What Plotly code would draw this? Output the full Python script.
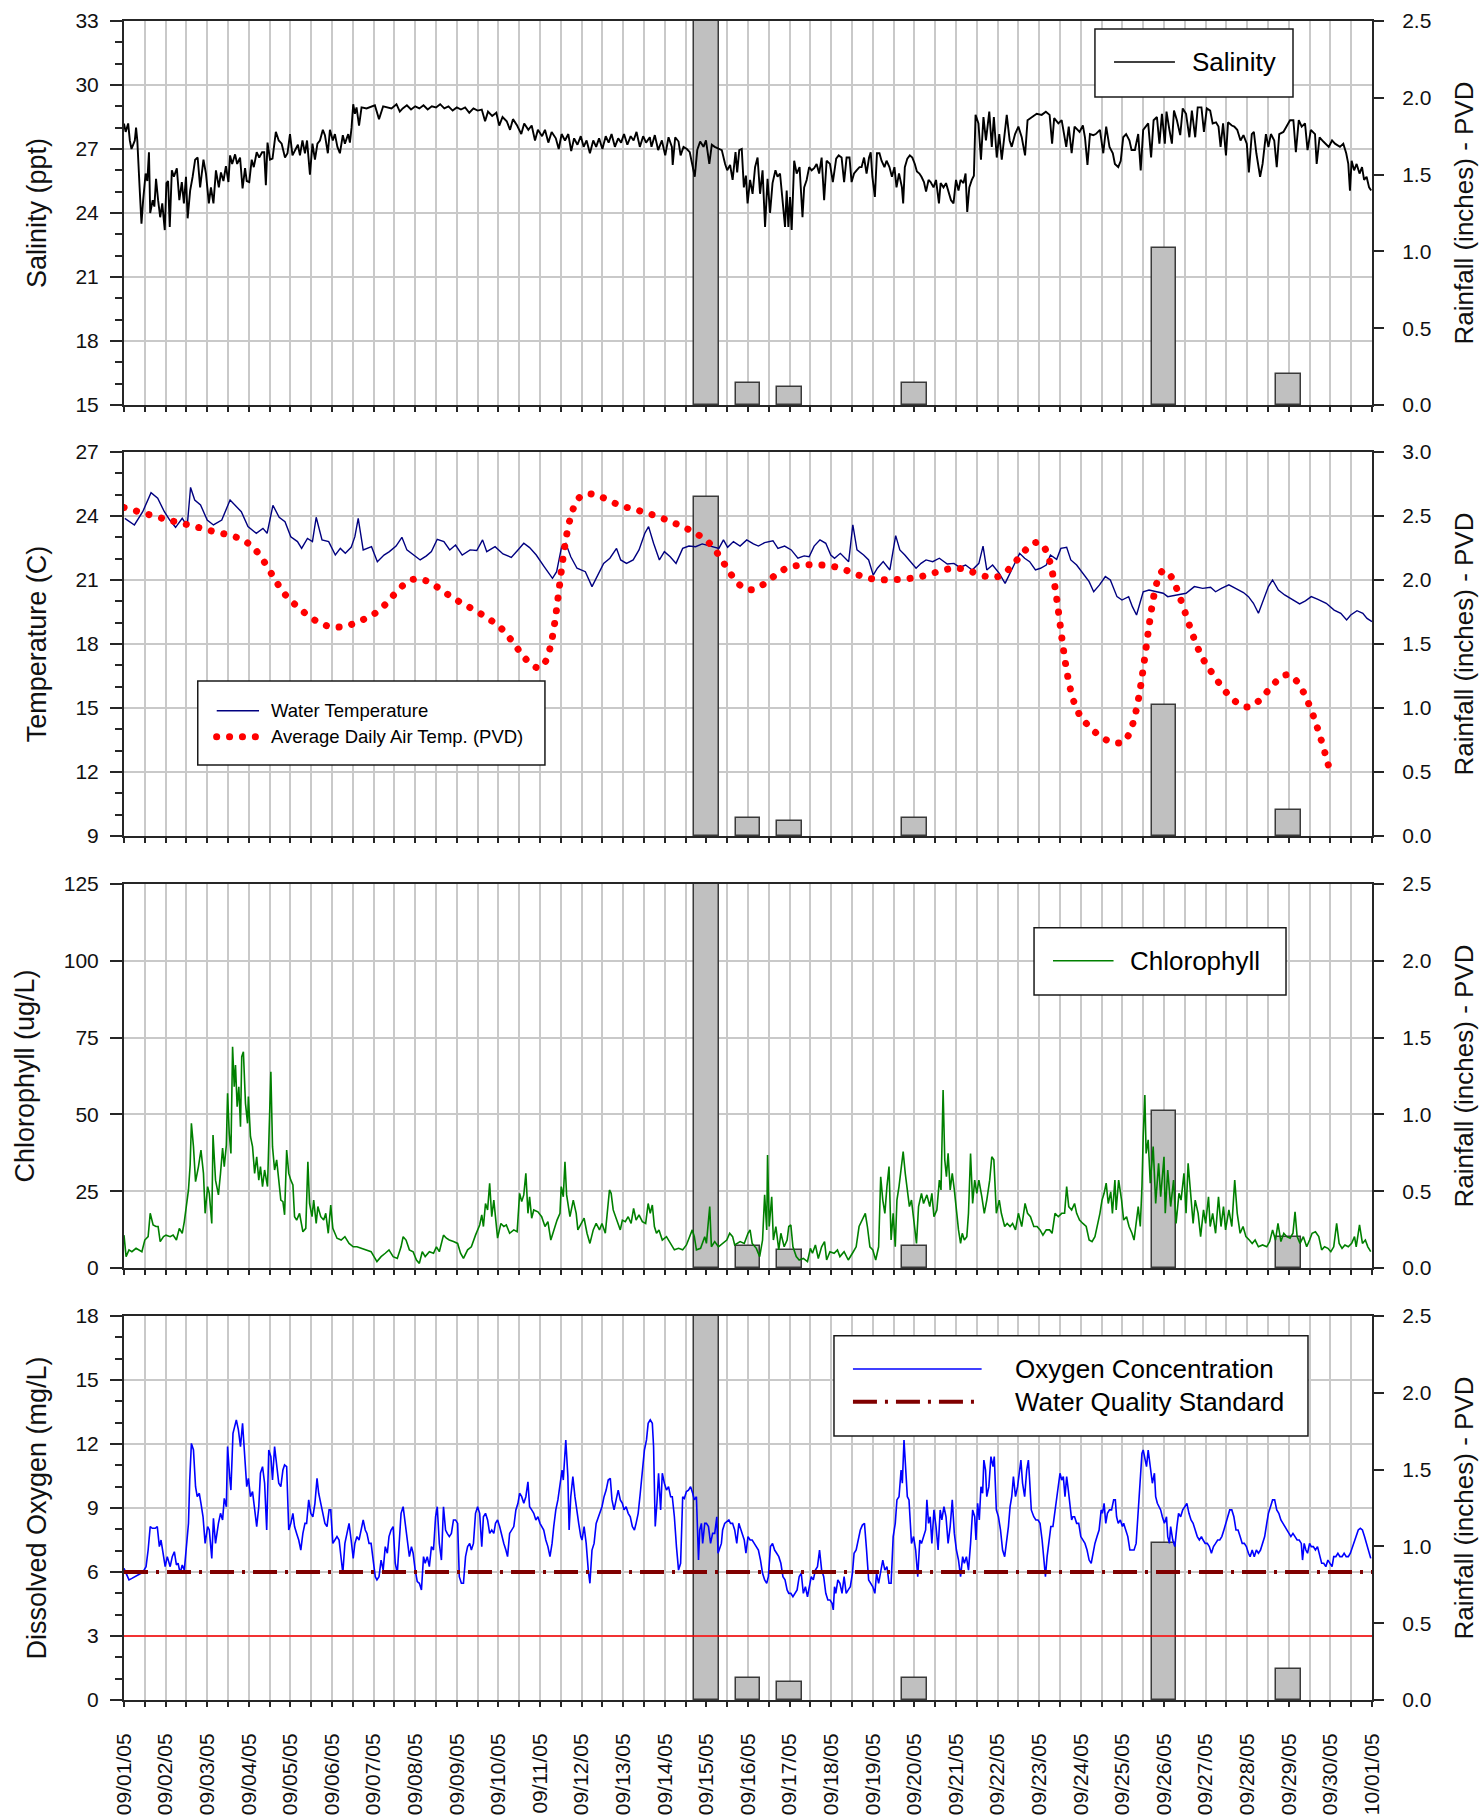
import pandas as pd
import plotly.graph_objects as go

T0 = pd.Timestamp("2005-09-01")
T_END = pd.Timestamp("2005-10-01")

# ---------------------------------------------------------------- data ----
# Daily rainfall at PVD (inches)
rain_dates = ["2005-09-15", "2005-09-16", "2005-09-17", "2005-09-20", "2005-09-26", "2005-09-29"]
rain_in = [2.65, 0.14, 0.12, 0.14, 1.02, 0.20]

# Average daily air temperature at PVD (C), 09/01 .. 09/30
air_dates = pd.date_range("2005-09-01", "2005-09-30", freq="D")
air_temp_c = [24.4, 23.85, 23.35, 22.7, 20.05, 18.8, 19.4, 21.05, 20.05, 18.85,
              16.9, 24.95, 24.45, 23.85, 22.85, 20.55, 21.6, 21.65, 21.05, 21.1,
              21.55, 21.15, 22.75, 14.6, 13.4, 21.45, 17.1, 15.05, 16.55, 11.95]

# Salinity (ppt); time in days after 09/01/05 00:00
sal_day = [
    0.00, 0.04, 0.10, 0.14, 0.18, 0.22, 0.26, 0.29, 0.32, 0.37,
    0.42, 0.46, 0.52, 0.56, 0.60, 0.63, 0.69, 0.73, 0.77, 0.82,
    0.87, 0.92, 0.98, 1.02, 1.06, 1.10, 1.15, 1.20, 1.27, 1.33,
    1.39, 1.44, 1.49, 1.53, 1.59, 1.65, 1.71, 1.77, 1.83, 1.91,
    1.97, 2.04, 2.09, 2.15, 2.21, 2.28, 2.33, 2.39, 2.45, 2.51,
    2.55, 2.60, 2.67, 2.72, 2.79, 2.85, 2.91, 2.95, 3.01, 3.07,
    3.12, 3.19, 3.25, 3.32, 3.37, 3.41, 3.45, 3.51, 3.57, 3.65,
    3.72, 3.79, 3.87, 3.93, 3.99, 4.05, 4.13, 4.18, 4.23, 4.29,
    4.35, 4.40, 4.47, 4.53, 4.59, 4.65, 4.71, 4.78, 4.83, 4.90,
    4.95, 5.02, 5.07, 5.13, 5.19, 5.26, 5.31, 5.39, 5.43, 5.47,
    5.51, 5.55, 5.59, 5.65, 5.71, 5.83, 6.03, 6.13, 6.23, 6.43,
    6.55, 6.63,
    6.70, 6.80, 6.90, 7.00, 7.10, 7.20, 7.30, 7.40, 7.50, 7.60,
    7.70, 7.80, 7.90, 8.00, 8.10, 8.20, 8.30, 8.40, 8.50, 8.60,
    8.68, 8.75, 8.85, 8.95, 9.02, 9.10, 9.20, 9.28, 9.35, 9.45,
    9.55, 9.62, 9.72, 9.80, 9.88, 9.95, 10.05, 10.12, 10.20, 10.28,
    10.38, 10.45, 10.52, 10.60, 10.68, 10.75, 10.82, 10.90, 10.98, 11.05,
    11.12, 11.20, 11.28, 11.35, 11.42, 11.50, 11.58, 11.65, 11.72, 11.80,
    11.88, 11.95, 12.02, 12.10, 12.18, 12.25, 12.32, 12.40, 12.48, 12.55,
    12.64, 12.68, 12.76, 12.84, 12.93, 13.01, 13.09, 13.17, 13.19, 13.25,
    13.33, 13.38, 13.45, 13.53, 13.60, 13.67, 13.72, 13.78, 13.85, 13.93,
    13.99, 14.07, 14.13, 14.20, 14.29, 14.37, 14.45, 14.50, 14.57, 14.63,
    14.70, 14.74, 14.79, 14.85, 14.90, 14.95, 14.99, 15.05, 15.11, 15.17,
    15.23, 15.29, 15.35, 15.41, 15.47, 15.53, 15.59, 15.66, 15.71, 15.77,
    15.83, 15.89, 15.93, 15.97, 16.01, 16.05, 16.11, 16.17, 16.24, 16.31,
    16.35, 16.41, 16.47, 16.53, 16.59, 16.65, 16.71, 16.77, 16.83, 16.89,
    16.97, 17.04, 17.12, 17.18, 17.25, 17.31, 17.37, 17.44, 17.49, 17.55,
    17.61, 17.68, 17.73, 17.79, 17.85, 17.91, 17.95, 17.99, 18.05, 18.10,
    18.16, 18.21, 18.28, 18.33, 18.40, 18.46, 18.52, 18.57, 18.63, 18.70,
    18.73, 18.77, 18.83, 18.89, 18.95, 19.01, 19.06, 19.12, 19.17, 19.23,
    19.28, 19.34, 19.39, 19.46, 19.52, 19.59, 19.63, 19.70, 19.76, 19.82,
    19.88, 19.94, 20.00, 20.06, 20.11, 20.18, 20.23, 20.27, 20.32, 20.38,
    20.43, 20.47, 20.54, 20.60, 20.66, 20.72, 20.80, 20.86, 20.91, 20.98,
    21.04, 21.10, 21.16, 21.22, 21.29, 21.34, 21.42, 21.50, 21.58, 21.66,
    21.72, 21.82, 21.94, 22.06, 22.16, 22.25, 22.31, 22.36, 22.46, 22.54,
    22.65, 22.71, 22.78, 22.85, 22.97, 23.05, 23.10, 23.16, 23.22, 23.30,
    23.36, 23.46, 23.54, 23.61, 23.69, 23.77, 23.82, 23.90, 23.96, 24.02,
    24.09, 24.17, 24.22, 24.30, 24.38, 24.44, 24.50, 24.62,
    24.69, 24.75, 24.83, 24.89, 24.95, 25.02, 25.06, 25.13, 25.19, 25.24,
    25.31, 25.39, 25.45, 25.53, 25.61, 25.67, 25.75, 25.81, 25.90, 25.96,
    26.03, 26.11, 26.17, 26.25, 26.31, 26.36, 26.42, 26.49, 26.54, 26.63,
    26.69, 26.76, 26.84, 26.91, 26.99, 27.04, 27.11, 27.16, 27.22, 27.31,
    27.37, 27.45, 27.51, 27.57, 27.65, 27.71, 27.77, 27.87, 27.95, 28.03,
    28.11, 28.17, 28.24, 28.31, 28.39, 28.45, 28.53, 28.63, 28.67, 28.74,
    28.83, 28.96, 29.04, 29.11, 29.23, 29.31, 29.38, 29.43, 29.47, 29.51,
    29.57, 29.63, 29.70, 29.76, 29.81, 29.87, 29.93, 29.98,
]
sal_ppt = [
    28.19, 27.8, 28.2, 27.4, 27.0, 27.25, 27.4, 28.0, 27.4, 25.4,
    23.5, 24.6, 25.85, 25.5, 26.85, 24.0, 24.6, 24.3, 25.6, 24.6,
    23.8, 24.45, 23.2, 25.4, 25.5, 23.35, 26.0, 25.7, 26.1, 24.6,
    25.45, 24.45, 25.7, 23.75, 25.05, 25.7, 26.5, 26.6, 25.2, 26.5,
    25.85, 24.45, 25.2, 24.45, 26.0, 25.2, 25.9, 25.5, 26.2, 25.45,
    26.7, 26.3, 26.75, 26.3, 26.6, 25.15, 26.1, 25.5, 25.45, 26.5,
    26.15, 26.85, 26.6, 26.85, 26.85, 25.3, 27.3, 26.5, 26.55, 27.8,
    27.4, 27.25, 26.6, 26.8, 27.7, 26.7, 27.0, 27.2, 26.7, 27.4,
    26.8, 27.4, 25.8, 27.25, 26.5, 27.25, 27.4, 27.9, 27.65, 26.8,
    27.9, 27.4, 27.7, 27.1, 26.8, 27.65, 27.25, 27.7, 27.3, 28.0,
    29.1, 28.65, 28.95, 28.1, 28.95, 28.9, 29.05, 28.4, 29.0, 28.9,
    29.1, 28.75,
    28.9, 29.05, 28.85, 29.0, 28.9, 29.05, 28.85, 29.0, 28.95, 29.1,
    28.9, 29.0, 28.8, 28.95, 28.85, 28.95, 28.7, 28.9, 28.8, 28.85,
    28.3, 28.75, 28.55, 28.7, 28.1, 28.5, 28.3, 27.9, 28.4, 28.1,
    27.7, 28.2, 27.9, 28.1, 27.4, 27.9, 27.6, 27.9, 27.3, 27.8,
    27.5, 27.0, 27.7, 27.4, 27.7, 26.9, 27.5, 27.2, 27.6, 27.1,
    27.4, 26.8, 27.4, 27.1, 27.5, 27.0, 27.6, 27.3, 27.7, 27.1,
    27.5, 27.3, 27.7, 27.2, 27.6, 27.4, 27.8, 27.1, 27.6, 27.3,
    27.55, 27.1, 27.65, 26.95, 27.4, 26.7, 27.55, 27.1, 26.25, 27.55,
    27.35, 26.7, 27.1, 27.0, 26.85, 26.15, 25.7, 26.95, 27.35, 27.1,
    27.4, 26.3, 27.2, 27.1, 27.0, 26.95, 26.3, 26.0, 26.25, 25.55,
    26.85, 25.9, 26.95, 27.0, 25.2, 25.75, 24.45, 25.55, 24.9, 26.15,
    26.6, 24.9, 26.0, 23.35, 25.6, 24.0, 25.4, 26.0, 25.7, 25.85,
    24.6, 23.35, 25.05, 23.35, 24.75, 23.2, 26.45, 25.85, 26.15, 23.8,
    25.2, 25.55, 26.15, 26.0, 26.1, 26.3, 25.85, 26.6, 24.6, 26.45,
    26.3, 25.45, 26.55, 26.7, 26.6, 25.45, 26.6, 26.6, 25.45, 25.85,
    26.0, 26.15, 26.15, 26.6, 25.85, 26.6, 26.85, 25.7, 24.75, 26.8,
    26.8, 26.45, 26.15, 26.45, 26.15, 25.7, 26.15, 25.2, 25.85, 25.2,
    24.45, 26.15, 26.55, 26.7, 26.6, 26.3, 25.95, 25.85, 25.7, 25.45,
    25.0, 25.55, 25.45, 25.2, 25.55, 24.45, 25.4, 25.2, 25.4, 25.05,
    24.6, 24.45, 25.55, 25.05, 25.55, 25.4, 25.85, 24.05, 25.2, 25.55,
    25.75, 28.6, 28.2, 26.5, 28.5, 27.4, 28.75, 27.1, 28.5, 26.6,
    27.7, 26.5, 27.7, 28.6, 27.4, 27.1, 27.7, 28.05, 27.55, 26.7,
    28.35, 28.5, 28.65, 28.6, 28.75, 28.6, 27.25, 28.45, 28.2, 28.35,
    27.1, 28.05, 26.8, 28.05, 27.8, 28.1, 27.55, 26.25, 27.7, 27.65,
    27.7, 27.9, 26.8, 28.05, 27.1, 26.8, 26.3, 26.15, 26.45, 27.55,
    27.7, 27.4, 26.95, 26.95, 27.7, 26.0, 27.9, 28.2,
    26.6, 28.35, 28.5, 27.25, 28.65, 27.25, 28.75, 27.9, 27.25, 28.8,
    28.35, 27.65, 28.9, 28.65, 27.55, 28.8, 27.55, 28.95, 28.95, 27.8,
    28.9, 28.8, 28.2, 28.25, 28.05, 27.1, 28.2, 26.7, 28.25, 28.1,
    28.05, 27.9, 27.4, 27.65, 27.25, 25.9, 27.7, 27.8, 26.8, 25.7,
    26.3, 27.7, 27.1, 27.7, 27.4, 26.15, 27.7, 27.8, 28.05, 28.35,
    28.35, 26.85, 28.35, 28.05, 28.2, 26.95, 27.9, 27.7, 26.3, 27.55,
    27.35, 27.1, 27.4, 27.25, 27.1, 27.25, 26.8, 26.3, 25.05, 26.45,
    26.0, 26.3, 25.85, 26.15, 25.55, 25.7, 25.2, 25.05,
]

# Water temperature (C)
wt_day = [
    0.02, 0.25, 0.45, 0.65, 0.81, 0.97, 1.10, 1.24, 1.40, 1.52,
    1.60, 1.70, 1.84, 2.00, 2.15, 2.35, 2.55, 2.69, 2.82, 2.98,
    3.18, 3.34, 3.44, 3.58, 3.73, 3.87, 4.01, 4.17, 4.27, 4.41,
    4.53, 4.62, 4.76, 4.92, 5.08, 5.20, 5.32, 5.46, 5.55, 5.63,
    5.75, 5.95, 6.09, 6.25, 6.38, 6.54, 6.68, 6.80, 6.96, 7.12,
    7.27, 7.39, 7.53, 7.69, 7.83, 7.97, 8.13, 8.32, 8.48, 8.62,
    8.72, 8.92, 9.11, 9.31, 9.47, 9.61, 9.75, 9.91, 10.10, 10.30,
    10.40, 10.52, 10.62, 10.74, 10.89, 11.09, 11.25, 11.37, 11.53, 11.68,
    11.84, 11.94, 12.08, 12.24, 12.38, 12.52, 12.61, 12.73, 12.87, 12.99,
    13.13, 13.27, 13.43, 13.58, 13.74, 13.90, 14.16, 14.30, 14.41, 14.51,
    14.65, 14.81, 14.97, 15.13, 15.25, 15.40, 15.60, 15.72, 15.88, 16.04,
    16.20, 16.35, 16.47, 16.59, 16.73, 16.87, 16.99, 17.08, 17.22, 17.42,
    17.52, 17.62, 17.78, 17.90, 18.01, 18.11, 18.25, 18.41, 18.55, 18.65,
    18.77, 18.90, 19.04, 19.16, 19.28, 19.44, 19.60, 19.79, 19.95, 20.09,
    20.23, 20.39, 20.55, 20.65, 20.74, 20.88, 21.04, 21.18, 21.30, 21.38,
    21.53, 21.65, 21.77, 21.91, 22.03, 22.17, 22.27, 22.42, 22.52, 22.66,
    22.76, 22.90, 23.06, 23.20, 23.31, 23.45, 23.59, 23.71, 23.87, 23.99,
    24.15, 24.24, 24.34, 24.50, 24.64, 24.84, 24.98, 25.09, 25.23, 25.37,
    25.53, 25.73, 25.93, 26.12, 26.24, 26.38, 26.56, 26.72, 26.91, 27.03,
    27.15, 27.27, 27.39, 27.51, 27.61, 27.75, 27.90, 28.10, 28.26, 28.40,
    28.54, 28.70, 28.90, 29.09, 29.25, 29.39, 29.49, 29.64, 29.78, 29.88,
    30.00,
]
wt_c = [
    23.89, 23.58, 24.2, 25.09, 24.83, 24.2, 23.81, 23.47, 23.89, 23.53,
    25.34, 24.75, 24.52, 23.81, 23.58, 23.81, 24.75, 24.44, 24.2, 23.5,
    23.19, 23.42, 23.19, 24.5, 23.94, 23.73, 23.03, 22.8, 22.48, 22.95,
    22.8, 23.94, 22.88, 22.8, 22.17, 22.48, 22.25, 22.53, 23.03, 23.89,
    22.41, 22.56, 21.86, 22.17, 22.33, 22.59, 23.0, 22.41, 22.17, 21.94,
    22.13, 22.33, 22.91, 22.8, 22.41, 22.64, 22.17, 22.41, 22.38, 22.88,
    22.33, 22.56, 22.22, 22.06, 22.41, 22.72, 22.52, 22.17, 21.63, 21.08,
    21.39, 22.56, 22.72, 22.09, 21.55, 21.39, 20.69, 21.16, 21.78, 22.02,
    22.48, 21.94, 21.78, 21.94, 22.41, 23.19, 23.5, 22.72, 21.94, 22.33,
    22.09, 21.78, 22.48, 22.59, 22.56, 22.69, 22.56, 22.48, 22.88, 22.53,
    22.8, 22.59, 22.88, 22.69, 22.59, 22.75, 22.84, 22.48, 22.59, 22.41,
    22.02, 22.13, 22.09, 22.59, 22.88, 22.72, 22.17, 22.02, 22.25, 21.86,
    23.59, 22.41, 22.17, 21.94, 21.23, 21.55, 21.86, 21.47, 23.08, 22.41,
    22.17, 21.86, 21.55, 21.78, 21.94, 21.86, 22.02, 21.75, 21.78, 21.59,
    21.7, 21.47, 21.78, 22.59, 21.47, 21.7, 21.31, 20.84, 21.31, 21.7,
    22.25, 22.02, 21.86, 21.47, 21.55, 21.7, 22.17, 21.97, 22.48, 22.53,
    21.94, 21.7, 21.31, 20.92, 20.45, 20.77, 21.16, 21.0, 20.22, 20.06,
    20.22, 19.75, 19.36, 20.45, 20.53, 20.45, 20.38, 20.22, 20.27, 20.3,
    20.38, 20.69, 20.61, 20.66, 20.45, 20.61, 20.77, 20.61, 20.41, 20.22,
    19.91, 19.44, 20.06, 20.69, 21.0, 20.53, 20.3, 20.06, 19.88, 20.02,
    20.22, 20.09, 19.91, 19.59, 19.44, 19.13, 19.36, 19.56, 19.44, 19.2,
    19.05,
]

# Chlorophyll (ug/L)
chl_day = [
    0.00, 0.05, 0.12, 0.19, 0.29, 0.37, 0.43, 0.50, 0.58, 0.63,
    0.70, 0.77, 0.82, 0.87, 0.95, 1.01, 1.11, 1.18, 1.26, 1.33,
    1.40, 1.45, 1.50, 1.55, 1.59, 1.62, 1.67, 1.72, 1.79, 1.85,
    1.91, 1.95, 2.01, 2.05, 2.11, 2.14, 2.20, 2.27, 2.32, 2.37,
    2.41, 2.46, 2.49, 2.53, 2.57, 2.61, 2.65, 2.68, 2.72, 2.76,
    2.80, 2.83, 2.87, 2.92, 2.97, 2.99, 3.04, 3.09, 3.14, 3.19,
    3.24, 3.28, 3.33, 3.38, 3.45, 3.50, 3.53, 3.57, 3.62, 3.67,
    3.72, 3.77, 3.82, 3.86, 3.91, 3.96, 4.01, 4.06, 4.10, 4.15,
    4.22, 4.30, 4.37, 4.42, 4.46, 4.52, 4.56, 4.62, 4.66, 4.73,
    4.80, 4.85, 4.91, 4.97, 5.02, 5.12, 5.22, 5.31, 5.41, 5.51,
    5.60, 5.70, 5.84, 5.94, 6.08, 6.18, 6.28, 6.37, 6.47, 6.57,
    6.66, 6.71, 6.78, 6.86, 6.95, 7.03, 7.10, 7.17, 7.24, 7.34,
    7.44, 7.51, 7.58, 7.68, 7.75, 7.82, 7.92, 8.02, 8.09, 8.16,
    8.26, 8.35, 8.45, 8.55, 8.60, 8.64, 8.69, 8.74, 8.79, 8.84,
    8.89, 8.93, 8.98, 9.06, 9.13, 9.19, 9.27, 9.37, 9.45, 9.51,
    9.56, 9.61, 9.66, 9.71, 9.75, 9.80, 9.85, 9.95, 10.04, 10.12,
    10.19, 10.26, 10.33, 10.41, 10.48, 10.51, 10.56, 10.60, 10.64, 10.72,
    10.80, 10.87, 10.91, 10.99, 11.06, 11.13, 11.20, 11.28, 11.35, 11.43,
    11.49, 11.57, 11.62, 11.67, 11.71, 11.76, 11.83, 11.88, 11.93, 11.98,
    12.05, 12.12, 12.19, 12.25, 12.31, 12.38, 12.46, 12.54, 12.60, 12.65,
    12.70, 12.75, 12.80, 12.86, 12.94, 13.04, 13.14, 13.23, 13.33, 13.43,
    13.52, 13.60, 13.66, 13.71, 13.76, 13.86, 13.96, 14.00, 14.08, 14.12,
    14.20, 14.29, 14.39, 14.49, 14.56, 14.63, 14.68,
    14.81, 14.91, 15.00, 15.05, 15.10, 15.20, 15.28, 15.35, 15.40, 15.45,
    15.47, 15.51, 15.57, 15.61, 15.67, 15.74, 15.79, 15.87, 15.94, 15.98,
    16.03, 16.08, 16.16, 16.23, 16.33, 16.43, 16.50, 16.55, 16.62, 16.69,
    16.77, 16.84, 16.89, 16.97, 17.07, 17.15, 17.21, 17.31, 17.41, 17.51,
    17.60, 17.67, 17.75, 17.82, 17.87, 17.93, 18.00, 18.07, 18.14, 18.19,
    18.24, 18.29, 18.34, 18.39, 18.44, 18.49, 18.54, 18.58, 18.63, 18.68,
    18.73, 18.78, 18.83, 18.88, 18.93, 18.98, 19.05, 19.10, 19.17, 19.22,
    19.30, 19.37, 19.42, 19.47, 19.54, 19.60, 19.64, 19.69, 19.73, 19.77,
    19.81, 19.86, 19.91, 19.96, 20.01, 20.06, 20.11, 20.15, 20.20, 20.26,
    20.30, 20.35, 20.40, 20.45, 20.50, 20.55, 20.62, 20.68, 20.74, 20.81,
    20.86, 20.91, 20.97, 21.04, 21.09, 21.17, 21.23, 21.30, 21.36, 21.43,
    21.50, 21.58, 21.66, 21.72, 21.79, 21.87, 21.95, 22.02, 22.09, 22.17,
    22.25, 22.31, 22.38, 22.46, 22.54, 22.61, 22.66, 22.71, 22.78, 22.85,
    22.90, 22.97, 23.05, 23.13, 23.20, 23.27, 23.34, 23.40, 23.46, 23.51,
    23.56, 23.61, 23.66, 23.72, 23.76, 23.82, 23.85, 23.91, 23.98, 24.03,
    24.10, 24.16, 24.23, 24.28, 24.33, 24.38, 24.43, 24.47, 24.50, 24.54,
    24.57, 24.62, 24.67, 24.74, 24.80, 24.87, 24.92, 25.00, 25.03, 25.09,
    25.16, 25.23, 25.29, 25.36, 25.41, 25.48, 25.53, 25.58, 25.64, 25.70,
    25.75, 25.82, 25.88, 25.95, 26.00, 26.07, 26.11, 26.17, 26.24, 26.31,
    26.37, 26.43, 26.48, 26.56, 26.63, 26.70, 26.76, 26.83, 26.90, 26.97,
    27.05, 27.12, 27.19, 27.27, 27.37, 27.47, 27.54, 27.61, 27.68, 27.74,
    27.81, 27.88, 27.95, 28.03, 28.10, 28.15, 28.20, 28.27, 28.35, 28.43,
    28.50, 28.56, 28.64, 28.72, 28.79, 28.86, 28.94, 29.01, 29.08, 29.15,
    29.21, 29.28, 29.35, 29.43, 29.51, 29.58, 29.62, 29.70, 29.77, 29.84,
    29.90, 29.97,
]
chl_ugl = [
    10.7, 3.7, 5.9, 5.3, 6.4, 5.9, 5.3, 9.1, 10.2, 17.8,
    14.0, 13.5, 13.5, 8.6, 10.2, 10.7, 10.2, 10.7, 9.1, 12.9,
    11.3, 15.1, 20.0, 25.4, 33.5, 47.1, 39.5, 28.1, 33.0, 38.4,
    30.8, 17.8, 26.5, 24.3, 14.5, 43.3, 28.6, 23.8, 30.8, 39.0,
    33.0, 40.0, 56.9, 43.8, 37.3, 72.0, 59.0, 66.1, 52.5, 59.0,
    46.0, 68.8, 70.4, 53.6, 47.1, 55.8, 42.8, 39.5, 30.8, 36.2,
    28.6, 33.0, 26.5, 31.9, 26.5, 46.0, 63.9, 39.5, 31.9, 35.2,
    28.6, 22.1, 21.6, 17.3, 38.4, 30.8, 28.6, 27.0, 16.7, 15.6,
    17.8, 11.8, 12.9, 34.6, 21.0, 16.7, 22.1, 14.5, 20.0, 16.7,
    15.6, 17.8, 11.3, 20.5, 12.9, 9.7, 9.1, 10.2, 8.0, 6.9,
    6.9, 6.4, 5.9, 5.3, 2.1, 3.7, 4.8, 5.9, 3.7, 3.1,
    6.9, 10.2, 9.1, 5.9, 5.3, 2.6, 1.5, 5.3, 3.7, 5.3,
    4.8, 6.9, 5.3, 10.7, 9.7, 9.1, 8.6, 8.0, 4.8, 3.1,
    5.9, 6.9, 10.7, 14.0, 17.3, 13.5, 21.0, 18.9, 27.6, 16.7,
    22.1, 15.6, 9.7, 14.5, 13.5, 14.0, 11.3, 12.4, 11.8, 24.3,
    21.6, 23.8, 30.8, 17.8, 23.2, 16.2, 18.9, 18.3, 16.7, 13.5,
    15.1, 9.1, 12.4, 15.6, 17.8, 26.5, 23.2, 34.6, 23.8, 16.7,
    22.1, 17.8, 12.4, 14.5, 16.2, 11.3, 8.0, 12.4, 14.5, 12.4,
    14.5, 11.3, 17.8, 25.4, 24.3, 18.9, 16.2, 14.5, 12.4, 15.6,
    15.1, 16.7, 14.5, 19.4, 15.6, 17.3, 15.1, 14.5, 21.0, 17.8,
    20.5, 13.5, 11.3, 12.4, 9.1, 10.2, 8.0, 5.9, 6.4, 5.9,
    7.5, 10.2, 12.4, 10.2, 5.9, 6.4, 10.2, 8.0, 20.0, 6.9,
    8.6, 6.9, 8.0, 9.1, 11.3, 10.2, 7.5,
    8.6, 8.0, 11.3, 12.4, 8.0, 6.4, 3.7, 9.1, 23.8, 12.4,
    36.8, 13.5, 23.2, 9.1, 13.5, 5.9, 11.3, 6.9, 9.1, 13.5,
    14.0, 6.9, 3.7, 2.6, 3.1, 2.1, 6.4, 4.8, 7.5, 3.1,
    6.9, 8.6, 2.6, 5.3, 4.8, 5.9, 3.7, 5.3, 2.6, 4.8,
    6.9, 13.5, 15.6, 17.8, 13.5, 6.9, 5.9, 2.6, 6.9, 29.7,
    22.1, 17.8, 26.5, 33.0, 9.1, 17.8, 6.9, 22.1, 26.5, 31.9,
    37.9, 30.8, 25.4, 20.0, 22.1, 15.6, 8.0, 20.0, 24.3, 21.0,
    23.8, 20.0, 24.3, 16.7, 18.9, 28.6, 25.4, 57.9, 35.2, 29.7,
    37.3, 25.4, 30.8, 25.4, 17.8, 12.4, 8.0, 11.3, 9.1, 10.2,
    17.8, 37.3, 21.0, 28.6, 24.3, 28.6, 23.2, 17.8, 22.1, 28.6,
    36.2, 35.2, 17.8, 22.1, 17.8, 13.5, 14.5, 13.5, 14.5, 12.4,
    17.8, 13.5, 21.0, 17.8, 16.7, 13.5, 13.5, 12.4, 10.7, 12.4,
    12.4, 11.3, 17.8, 16.7, 17.8, 17.8, 26.5, 20.0, 18.9, 21.0,
    17.8, 15.6, 14.5, 13.5, 9.1, 8.6, 10.2, 13.5, 17.8, 22.1,
    24.3, 27.6, 21.0, 24.8, 17.8, 28.6, 18.9, 28.6, 22.1, 15.6,
    16.7, 13.5, 11.3, 9.1, 15.6, 20.0, 13.5, 26.5, 42.8, 56.3,
    37.3, 41.7, 27.6, 39.5, 21.0, 34.1, 23.2, 36.2, 17.8, 31.9,
    20.0, 28.6, 14.5, 24.3, 22.1, 30.8, 17.8, 34.1, 24.3, 14.5,
    22.1, 17.8, 10.2, 18.9, 14.5, 23.2, 13.5, 17.8, 11.3, 23.2,
    13.5, 20.0, 12.4, 18.9, 13.5, 28.6, 17.8, 11.3, 13.5, 10.2,
    9.1, 8.0, 9.1, 6.9, 7.5, 6.9, 8.6, 12.4, 9.1, 14.5,
    8.6, 11.3, 10.2, 9.7, 11.3, 18.3, 10.2, 8.0, 10.2, 6.9,
    9.1, 11.3, 11.8, 10.2, 5.9, 6.9, 6.4, 5.3, 6.9, 14.5,
    8.0, 6.4, 7.5, 6.9, 8.0, 10.2, 6.9, 14.0, 8.0, 9.1,
    6.9, 5.3,
]

# Dissolved oxygen (mg/L)
do_day = [
    0.00, 0.05, 0.12, 0.19, 0.27, 0.34, 0.41, 0.46, 0.53, 0.58,
    0.63, 0.68, 0.75, 0.80, 0.85, 0.89, 0.95, 0.99, 1.04, 1.11,
    1.16, 1.21, 1.26, 1.30, 1.35, 1.40, 1.45, 1.50, 1.55, 1.58,
    1.62, 1.67, 1.72, 1.76, 1.81, 1.85, 1.90, 1.95, 2.01, 2.05,
    2.11, 2.15, 2.20, 2.27, 2.32, 2.37, 2.41, 2.46, 2.49, 2.54,
    2.57, 2.62, 2.66, 2.70, 2.75, 2.80, 2.85, 2.90, 2.95, 2.99,
    3.04, 3.09, 3.14, 3.19, 3.24, 3.28, 3.33, 3.38, 3.43, 3.48,
    3.53, 3.57, 3.62, 3.67, 3.72, 3.77, 3.82, 3.86, 3.91, 3.96,
    4.01, 4.06, 4.10, 4.15, 4.20, 4.25, 4.30, 4.35, 4.39, 4.44,
    4.49, 4.54, 4.59, 4.64, 4.68, 4.73, 4.78, 4.83, 4.88, 4.93,
    4.97, 5.02, 5.07, 5.12, 5.17, 5.22, 5.26, 5.31, 5.36, 5.41,
    5.46, 5.51, 5.55, 5.60, 5.65, 5.70, 5.75, 5.80, 5.84, 5.89,
    5.94, 5.99, 6.04, 6.08, 6.13, 6.18, 6.23, 6.28, 6.33, 6.37,
    6.42, 6.47, 6.52, 6.57, 6.62, 6.66, 6.71, 6.76, 6.81, 6.86,
    6.91, 6.95, 7.00, 7.05, 7.10, 7.15, 7.20, 7.24, 7.29, 7.34,
    7.39, 7.44, 7.49, 7.53, 7.58, 7.63, 7.68, 7.73, 7.77, 7.82,
    7.87, 7.92, 7.97, 8.02, 8.06, 8.11, 8.16, 8.21, 8.26, 8.31,
    8.35, 8.40, 8.45, 8.50, 8.55, 8.60, 8.64, 8.69, 8.74, 8.79,
    8.84, 8.89, 8.93, 8.98, 9.03, 9.08, 9.13, 9.18, 9.22, 9.27,
    9.32, 9.37, 9.42, 9.47, 9.51, 9.56, 9.61, 9.66, 9.71, 9.75,
    9.80, 9.85, 9.90, 9.95, 10.00, 10.04, 10.09, 10.14, 10.19, 10.24,
    10.29, 10.33, 10.38, 10.43, 10.48, 10.53, 10.56, 10.60, 10.62, 10.67,
    10.70, 10.74, 10.79, 10.84, 10.88, 10.93, 10.98, 11.01, 11.06, 11.11,
    11.16, 11.20, 11.25, 11.30, 11.35, 11.40, 11.45, 11.49, 11.54, 11.59,
    11.64, 11.69, 11.73, 11.78, 11.83, 11.88, 11.93, 11.98, 12.02, 12.07,
    12.12, 12.17, 12.22, 12.27, 12.31, 12.36, 12.41, 12.46, 12.51, 12.56,
    12.60, 12.65, 12.70, 12.73, 12.77, 12.81, 12.85, 12.90, 12.94, 12.99,
    13.04, 13.09, 13.14, 13.18, 13.23, 13.28, 13.33, 13.38, 13.43, 13.47,
    13.52, 13.57, 13.62, 13.67, 13.71, 13.76, 13.81, 13.84, 13.88, 13.91,
    13.96, 14.00, 14.05, 14.10, 14.15, 14.20, 14.25, 14.28, 14.31, 14.36,
    14.39, 14.44, 14.49, 14.54, 14.58, 14.63, 14.68, 14.73, 14.78,
    14.91, 14.95, 15.00, 15.05, 15.10, 15.15, 15.20, 15.25, 15.30, 15.35,
    15.40, 15.45, 15.49, 15.54, 15.59, 15.64, 15.69, 15.74, 15.79, 15.84,
    15.89, 15.94, 15.98, 16.03, 16.08, 16.13, 16.18, 16.23, 16.28, 16.33,
    16.38, 16.43, 16.48, 16.52, 16.57, 16.62, 16.67, 16.72, 16.77, 16.82,
    16.87, 16.92, 16.97, 17.02, 17.05, 17.08, 17.11, 17.16, 17.21, 17.26,
    17.31, 17.36, 17.41, 17.46, 17.51, 17.55, 17.60, 17.65, 17.70, 17.75,
    17.80, 17.85, 17.90, 17.95, 18.00, 18.05, 18.09, 18.14, 18.19, 18.24,
    18.29, 18.34, 18.39, 18.44, 18.49, 18.54, 18.58, 18.63, 18.68, 18.71,
    18.75, 18.79, 18.83, 18.87, 18.90, 18.93, 18.98, 19.03, 19.08, 19.13,
    19.17, 19.22, 19.27, 19.30, 19.34, 19.38, 19.42, 19.47, 19.52, 19.57,
    19.62, 19.66, 19.71, 19.76, 19.81, 19.86, 19.91, 19.96, 20.01, 20.06,
    20.11, 20.16, 20.20, 20.25, 20.30, 20.35, 20.40, 20.45, 20.48, 20.52,
    20.56, 20.60, 20.64, 20.67, 20.71, 20.74, 20.79, 20.84, 20.89, 20.92,
    20.97, 21.02, 21.07, 21.12, 21.17, 21.21, 21.26, 21.30, 21.34, 21.38,
    21.43, 21.48, 21.53, 21.56, 21.60, 21.65, 21.70, 21.74, 21.77, 21.81,
    21.87, 21.92, 21.97, 22.02, 22.07, 22.12, 22.15, 22.19, 22.24, 22.28,
    22.33, 22.38, 22.42, 22.46, 22.50, 22.54, 22.58, 22.62, 22.66, 22.70,
    22.74, 22.78, 22.81, 22.85, 22.90, 22.95, 23.00, 23.05, 23.10, 23.15,
    23.20, 23.25, 23.30, 23.34, 23.39, 23.44, 23.49, 23.52, 23.56, 23.60,
    23.64, 23.69, 23.74, 23.79, 23.83, 23.86, 23.90, 23.95, 24.00, 24.03,
    24.08, 24.13, 24.18, 24.23, 24.28, 24.33, 24.36, 24.40, 24.43, 24.47,
    24.50, 24.54, 24.58, 24.62, 24.67, 24.72, 24.77, 24.80, 24.84, 24.89,
    24.92, 24.96, 25.01, 25.06, 25.09, 25.13, 25.16, 25.21, 25.26, 25.31,
    25.35, 25.40, 25.45, 25.50, 25.55, 25.60, 25.65, 25.70, 25.75, 25.80,
    25.85, 25.90, 25.94, 25.99, 26.04, 26.09, 26.14, 26.19, 26.24, 26.29,
    26.34, 26.39, 26.44, 26.49, 26.53, 26.58, 26.63, 26.68, 26.73, 26.78,
    26.83, 26.88, 26.93, 26.98, 27.03, 27.07, 27.12, 27.17, 27.22, 27.27,
    27.32, 27.37, 27.42, 27.47, 27.51, 27.56, 27.61, 27.66, 27.71, 27.76,
    27.81, 27.86, 27.91, 27.96, 28.00, 28.05, 28.10, 28.15, 28.20, 28.25,
    28.30, 28.33, 28.37, 28.41, 28.45, 28.50, 28.54, 28.59, 28.64, 28.69,
    28.74, 28.79, 28.84, 28.89, 28.94, 28.99, 29.04, 29.08, 29.13, 29.18,
    29.23, 29.28, 29.33, 29.38, 29.43, 29.48, 29.53, 29.57, 29.62, 29.67,
    29.72, 29.77, 29.82, 29.87, 29.92, 29.97,
]
do_mgl = [
    6.17, 5.94, 5.63, 5.7, 5.78, 5.86, 5.94, 6.02, 6.25, 7.03,
    8.13, 8.05, 8.05, 8.13, 7.19, 7.5, 6.64, 6.25, 6.72, 6.25,
    6.72, 6.95, 6.33, 6.41, 5.94, 6.33, 6.09, 7.34, 8.28, 10.31,
    12.03, 11.72, 10.0, 9.53, 9.69, 9.22, 8.59, 7.34, 8.13, 7.97,
    6.64, 8.52, 7.34, 8.28, 8.75, 8.44, 9.45, 9.06, 11.88, 10.47,
    9.84, 12.5, 12.81, 13.13, 12.66, 11.88, 12.97, 11.25, 10.0, 10.39,
    9.53, 9.77, 9.06, 8.13, 9.06, 10.63, 10.94, 10.16, 7.97, 11.72,
    11.41, 10.31, 11.88, 10.94, 10.16, 10.0, 10.78, 11.02, 10.94, 7.97,
    8.28, 8.75, 8.13, 7.81, 7.5, 7.03, 7.81, 8.28, 8.28, 9.38,
    8.75, 8.59, 9.22, 10.39, 9.69, 9.22, 8.75, 8.28, 8.13, 8.91,
    8.91, 7.34, 7.5, 7.66, 7.5, 6.56, 5.94, 7.34, 7.81, 8.28,
    7.5, 6.64, 7.34, 7.66, 7.5, 7.97, 8.44, 7.97, 7.81, 7.34,
    7.34, 6.56, 5.78, 5.63, 5.78, 6.56, 6.09, 7.19, 6.88, 7.66,
    7.97, 8.13, 6.41, 5.94, 7.34, 8.75, 9.06, 8.28, 7.34, 6.72,
    7.19, 6.88, 6.09, 5.55, 5.47, 5.16, 6.72, 6.41, 6.72, 6.25,
    7.19, 7.03, 8.59, 9.06, 7.34, 6.56, 9.06, 7.97, 7.81, 7.66,
    7.81, 8.44, 8.44, 8.28, 5.78, 5.47, 5.47, 6.72, 7.19, 7.34,
    7.03, 7.34, 8.75, 9.06, 8.75, 7.19, 8.59, 8.75, 8.44, 7.81,
    7.97, 7.81, 8.28, 8.44, 8.13, 7.66, 7.34, 7.03, 6.72, 7.81,
    7.97, 8.13, 8.91, 9.22, 9.69, 9.53, 9.22, 9.53, 10.23, 9.06,
    8.91, 8.75, 8.44, 8.59, 8.28, 8.13, 7.97, 7.5, 7.19, 6.72,
    7.34, 8.13, 8.91, 9.38, 10.16, 10.78, 10.31, 12.03, 12.19, 10.47,
    7.97, 9.53, 10.47, 9.53, 8.91, 8.28, 7.66, 7.5, 8.13, 7.34,
    6.09, 5.47, 7.03, 7.34, 8.28, 8.59, 8.91, 9.06, 9.53, 9.84,
    10.31, 10.39, 9.38, 8.91, 9.38, 9.84, 9.38, 9.22, 8.91, 9.06,
    8.75, 8.59, 8.13, 7.97, 8.28, 8.75, 9.69, 10.78, 11.72, 12.19,
    12.97, 13.13, 12.97, 11.88, 8.13, 9.22, 10.63, 8.91, 10.63, 10.16,
    9.84, 10.0, 9.53, 9.53, 8.59, 7.19, 6.09, 6.41, 9.53, 9.45,
    9.77, 9.84, 10.0, 9.69, 9.38, 9.53, 6.56, 7.97, 8.28, 7.34,
    8.28, 8.28, 8.13, 7.34, 7.81, 7.81, 8.59, 6.88, 7.03, 7.34,
    7.97, 8.28, 8.36, 8.44, 8.28, 8.28, 7.97, 7.34, 8.28,
    7.5, 6.88, 7.66, 7.5, 7.5, 7.34, 7.19, 7.03, 6.56, 5.94,
    5.63, 5.47, 5.78, 7.19, 7.34, 7.03, 6.88, 6.72, 6.41, 5.78,
    5.63, 5.16, 5.0, 5.0, 4.84, 5.0, 5.16, 5.78, 5.94, 5.0,
    5.31, 4.84, 5.31, 5.78, 5.63, 6.09, 6.25, 7.03, 6.09, 5.78,
    5.0, 4.69, 4.69, 4.53, 4.22, 5.31, 5.0, 5.63, 5.47, 5.0,
    5.78, 5.0, 5.16, 5.31, 5.94, 6.88, 7.03, 7.5, 7.97, 8.2,
    8.28, 7.03, 5.63, 5.47, 5.31, 5.0, 5.94, 5.47, 5.94, 6.56,
    6.09, 6.25, 5.47, 5.47, 7.66, 8.28, 9.38, 9.53, 10.78, 10.16,
    12.19, 11.09, 9.53, 9.38, 8.59, 7.34, 7.66, 7.03, 5.78, 7.5,
    7.34, 7.66, 7.97, 9.38, 8.28, 8.59, 7.34, 8.91, 8.13, 7.03,
    8.91, 8.44, 9.06, 8.59, 7.34, 8.13, 9.38, 7.81, 7.03, 6.56,
    5.78, 6.72, 6.41, 6.72, 6.09, 7.34, 8.91, 8.59, 7.5, 9.22,
    8.44, 10.0, 9.69, 11.25, 10.78, 9.53, 10.0, 11.41, 10.94, 11.41,
    8.91, 8.59, 7.97, 7.03, 6.72, 7.34, 8.13, 9.06, 9.53, 10.47,
    9.53, 10.0, 10.94, 11.25, 10.16, 9.53, 10.78, 11.25, 10.31, 8.91,
    8.59, 8.44, 8.44, 8.28, 7.5, 6.41, 5.78, 6.72, 7.5, 8.13,
    8.13, 8.91, 9.53, 10.16, 10.63, 10.31, 10.47, 9.53, 10.47, 9.84,
    9.22, 8.44, 8.59, 8.59, 8.28, 8.28, 7.66, 7.5, 7.34, 7.03,
    6.56, 6.41, 7.03, 7.34, 7.66, 7.97, 8.91, 8.75, 9.22, 8.28,
    8.75, 8.91, 8.91, 9.38, 9.38, 8.59, 8.28, 8.44, 8.13, 8.28,
    7.97, 7.66, 7.03, 7.03, 7.03, 7.34, 8.28, 9.69, 10.16, 11.56,
    11.72, 11.25, 10.94, 11.72, 10.78, 10.16, 10.63, 9.53, 9.22, 9.06,
    8.91, 8.59, 8.28, 8.59, 7.66, 7.34, 8.13, 7.5, 7.19, 8.13,
    8.75, 8.59, 8.91, 9.06, 9.22, 8.75, 8.44, 8.28, 7.97, 7.66,
    7.5, 7.66, 7.5, 7.34, 7.34, 7.19, 6.88, 7.19, 7.34, 7.5,
    7.5, 7.66, 7.97, 8.28, 8.59, 8.91, 8.91, 8.59, 7.97, 7.97,
    7.66, 7.34, 7.34, 7.19, 6.88, 6.72, 7.03, 6.72, 7.03, 6.88,
    7.03, 7.34, 7.66, 8.28, 8.75, 9.06, 9.38, 9.38, 8.91, 8.75,
    8.44, 8.28, 8.13, 7.97, 7.81, 7.66, 7.81, 7.66, 7.5, 7.5,
    7.34, 6.56, 7.34, 7.03, 6.88, 7.34, 7.19, 7.19, 7.03, 7.19,
    6.72, 6.41, 6.41, 6.25, 6.56, 6.41, 6.25, 6.72, 6.72, 6.88,
    6.72, 6.72, 6.88, 6.72, 6.72, 6.88, 7.19, 7.34, 7.66, 7.97,
    8.05, 7.97, 7.66, 7.34, 7.03, 6.64,
]

do_standard_mgl = 6.0   # water quality standard
do_hypoxic_mgl = 3.0    # hypoxia threshold

# ------------------------------------------------------------- styling ----
FONT = "Liberation Sans, Arial, Helvetica, sans-serif"
AXIS = "#262626"
GRID = "#c9c9c9"
W, H = 1481, 1819
MARGIN = dict(l=124, r=109, t=21, b=119)
AIR_DASH = "0.1px,12.8px"     # round dots once the line caps are rounded
WQS_DASH = "24px,8px,3px,8px"

panels = [
    dict(dom=[0.7713, 1.0], title="Salinity (ppt)", rng=[15, 33], dtick=3, minor=1, rain_max=2.5),
    dict(dom=[0.5146, 0.7433], title="Temperature (C)", rng=[9, 27], dtick=3, minor=1, rain_max=3.0),
    dict(dom=[0.2573, 0.4860], title="Chlorophyll (ug/L)", rng=[0, 125], dtick=25, minor=None, rain_max=2.5),
    dict(dom=[0.0, 0.2287], title="Dissolved Oxygen (mg/L)", rng=[0, 18], dtick=3, minor=1, rain_max=2.5),
]


def to_time(days):
    return T0 + pd.to_timedelta(days, unit="D")


def ax_names(i):
    """Axis layout keys / trace refs for panel i (0-based)."""
    xn = "xaxis" if i == 0 else f"xaxis{i + 1}"
    xr = "x" if i == 0 else f"x{i + 1}"
    rain_n = 2 * i + 1
    data_n = 2 * i + 2
    rk = "yaxis" if rain_n == 1 else f"yaxis{rain_n}"
    rr = "y" if rain_n == 1 else f"y{rain_n}"
    return xn, xr, rk, rr, f"yaxis{data_n}", f"y{data_n}"


fig = go.Figure()
rain_x = pd.to_datetime(rain_dates)
bar_width_ms = 0.6 * 86400000

series = [
    [dict(x=to_time(sal_day), y=sal_ppt, color="#000000", name="Salinity", width=1.9)],
    [dict(x=to_time(wt_day), y=wt_c, color="#000080", name="Water Temperature", width=1.4),
     dict(x=air_dates, y=air_temp_c, color="#ff0000", name="Average Daily Air Temp. (PVD)",
          dash=AIR_DASH, width=7, shape="spline")],
    [dict(x=to_time(chl_day), y=chl_ugl, color="#008000", name="Chlorophyll", width=1.6)],
    [dict(x=to_time(do_day), y=do_mgl, color="#0000ff", name="Oxygen Concentration", width=1.6),
     dict(x=[T0, T_END], y=[do_standard_mgl, do_standard_mgl], color="#800000",
          name="Water Quality Standard", dash=WQS_DASH, width=4),
     dict(x=[T0, T_END], y=[do_hypoxic_mgl, do_hypoxic_mgl], color="#ff0000",
          name="Hypoxia", width=1.6)],
]

layout = dict(
    width=W, height=H, margin=MARGIN, autosize=False,
    paper_bgcolor="white", plot_bgcolor="white",
    font=dict(family=FONT, color="#111111"),
    showlegend=False, bargap=0,
)

for i, p in enumerate(panels):
    xn, xr, rk, rr, dk, dr = ax_names(i)

    # rainfall bars on the right-hand axis (base of the subplot, drawn first)
    fig.add_trace(go.Bar(
        x=rain_x, y=rain_in, width=bar_width_ms, xaxis=xr, yaxis=rr,
        marker=dict(color="#c0c0c0", line=dict(color="#3a3a3a", width=1.5)),
        name="Rainfall", showlegend=False, hoverinfo="x+y",
    ))
    # measured series on the left-hand overlay axis
    for s in series[i]:
        fig.add_trace(go.Scatter(
            x=s["x"], y=s["y"], mode="lines", xaxis=xr, yaxis=dr, name=s["name"],
            showlegend=False,
            line=dict(color=s["color"], width=s.get("width", 1.5), dash=s.get("dash", "solid"),
                      shape=s.get("shape", "linear")),
        ))

    layout[xn] = dict(
        domain=[0, 1], anchor=rr, type="date", automargin=False,
        range=[T0.strftime("%Y-%m-%d"), T_END.strftime("%Y-%m-%d")],
        tick0="2005-09-01", dtick=86400000, tickformat="%m/%d/%y", tickangle=-90,
        showticklabels=(i == 3), ticks="outside", ticklen=5, tickwidth=1.5, tickcolor=AXIS,
        ticklabelstandoff=18, tickfont=dict(size=21, color="#111111"),
        showgrid=True, gridcolor=GRID, gridwidth=1.5,
        minor=dict(dtick=43200000, ticks="outside", ticklen=5, tickwidth=1.5, tickcolor=AXIS,
                   showgrid=True, gridcolor=GRID, gridwidth=1.5),
        showline=True, linecolor=AXIS, linewidth=2, mirror=True, zeroline=False,
    )
    layout[rk] = dict(
        domain=p["dom"], anchor=xr, side="right", range=[0, p["rain_max"]], automargin=False,
        tick0=0, dtick=0.5, tickformat=".1f", ticks="outside", ticklen=10, tickwidth=1.5,
        tickcolor=AXIS, tickfont=dict(size=21, color="#111111"), ticklabelstandoff=14,
        showgrid=False, zeroline=False, showline=True, linecolor=AXIS, linewidth=2,
        title=dict(text="Rainfall (inches) - PVD", font=dict(size=26), standoff=24),
    )
    yd = dict(
        overlaying=rr, anchor=xr, side="left", range=p["rng"], tick0=p["rng"][0], dtick=p["dtick"],
        automargin=False, ticks="outside", ticklen=12, tickwidth=1.5, tickcolor=AXIS,
        tickfont=dict(size=21, color="#111111"), ticklabelstandoff=7,
        showgrid=True, gridcolor=GRID, gridwidth=1.5, zeroline=False,
        showline=True, linecolor=AXIS, linewidth=2,
        title=dict(text=p["title"], font=dict(size=27), standoff=21),
    )
    if p["minor"]:
        yd["minor"] = dict(dtick=p["minor"], ticks="outside", ticklen=7, tickwidth=1.5,
                           tickcolor=AXIS, showgrid=False)
    layout[dk] = yd

# ---------------------------------------------------------- legends ----
shapes, annotations = [], []


def legend_box(x0, x1, y0, y1):
    shapes.append(dict(type="rect", xref="paper", yref="paper", x0=x0, x1=x1, y0=y0, y1=y1,
                       line=dict(color="#1a1a1a", width=1.5), fillcolor="white", layer="above"))


def legend_line(x0, x1, y, color, width=1.5, dash="solid"):
    shapes.append(dict(type="line", xref="paper", yref="paper", x0=x0, x1=x1, y0=y, y1=y,
                       line=dict(color=color, width=width, dash=dash), layer="above"))


def legend_text(x, y, text, size):
    annotations.append(dict(xref="paper", yref="paper", x=x, y=y, text=text, showarrow=False,
                            xanchor="left", yanchor="middle",
                            font=dict(size=size, color="#000000", family=FONT)))


legend_box(0.7780, 0.9367, 0.9547, 0.9952)
legend_line(0.7933, 0.8421, 0.9756, "#000000")
legend_text(0.8542, 0.9756, "Salinity", 26)

legend_box(0.0591, 0.3373, 0.5569, 0.6069)
legend_line(0.0743, 0.1082, 0.5892, "#000080")
legend_text(0.1162, 0.5892, "Water Temperature", 18.5)
legend_line(0.0742, 0.1082, 0.5737, "#ff0000", width=7, dash=AIR_DASH)
legend_text(0.1162, 0.5737, "Average Daily Air Temp. (PVD)", 18.5)

legend_box(0.7292, 0.9311, 0.4199, 0.4600)
legend_line(0.7444, 0.7929, 0.4403, "#008000")
legend_text(0.8043, 0.4403, "Chlorophyll", 26)

legend_box(0.5689, 0.9487, 0.1572, 0.2170)
legend_line(0.5841, 0.6872, 0.1971, "#0000ff")
legend_text(0.7121, 0.1971, "Oxygen Concentration", 26)
legend_line(0.5841, 0.6872, 0.1777, "#800000", width=4, dash=WQS_DASH)
legend_text(0.7121, 0.1777, "Water Quality Standard", 26)

# chart title sits at the very top edge of the page
annotations.append(dict(xref="paper", yref="paper", x=0.3982, y=1.0158, xanchor="left",
                        yanchor="bottom", showarrow=False,
                        text="Bullock Reach (September 2005) Deep",
                        font=dict(size=24.5, color="#000000", family=FONT)))

layout["shapes"] = shapes
layout["annotations"] = annotations
fig.update_layout(**layout)

# round line caps turn the near-zero dashes of the air temperature line into dots
round_dots = """
document.body.style.margin = '0';
document.querySelectorAll('path').forEach(function (p) {
  var d = p.style.strokeDasharray || p.getAttribute('stroke-dasharray') || '';
  if (d.indexOf('0.1px') === 0) { p.style.strokeLinecap = 'round'; }
});
"""

fig.write_html("out.html", include_plotlyjs=True, full_html=True,
               config={"displayModeBar": False}, post_script=round_dots)
